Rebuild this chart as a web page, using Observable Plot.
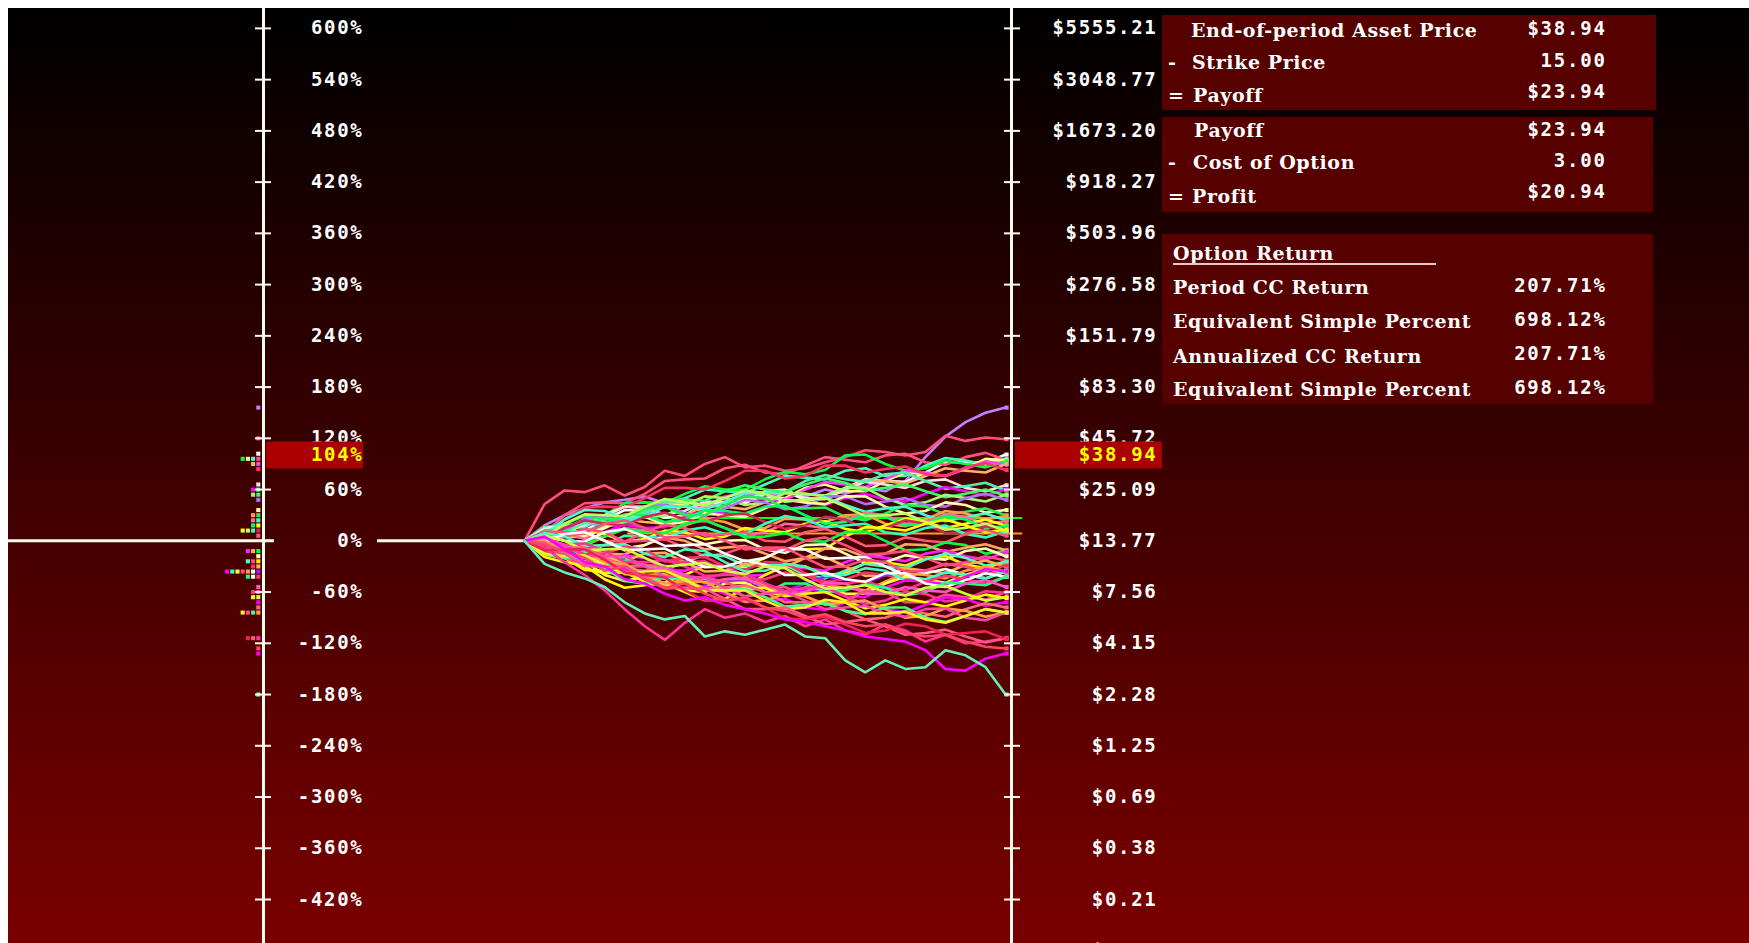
<!DOCTYPE html>
<html><head><meta charset="utf-8">
<script src="https://cdn.jsdelivr.net/npm/d3@7"></script>
<script src="https://cdn.jsdelivr.net/npm/@observablehq/plot@0.6"></script>
<style>
html, body { margin:0; padding:0; background:#ffffff; overflow:hidden; }
#wrap { position:absolute; left:8px; top:8px; width:1741px; height:935px; overflow:hidden; }
.box { position:absolute; background:#560000; }
.lbl { position:absolute; font-family:"DejaVu Serif"; font-weight:bold; font-size:19px; line-height:19px; letter-spacing:0.6px; color:#ffffff; white-space:nowrap; }
.val { position:absolute; font-family:"DejaVu Sans Mono"; font-weight:bold; font-size:19px; line-height:19px; letter-spacing:1.8px; color:#ffffff; text-align:right; white-space:nowrap; }
.uline { position:absolute; height:2px; background:#e8c8c8; }
</style></head>
<body><div id="wrap"></div>
<script>
// ---------------- data ----------------
const returnTicks = [600, 540, 480, 420, 360, 300, 240, 180, 120, 60, 0, -60, -120, -180, -240, -300, -360, -420, -480];
const basePrice = 13.77;
const strikePrice = 15.00;
const optionCost = 3.00;
const selectedReturn = 103.955;
const periodDays = 252;

const pathColors = [
  "#c080ff", "#ff4d80", "#ffffff", "#ff5080", "#40ffc0", "#ffff80", "#00ff40", "#ff40ff",
  "#ffb060", "#ff3366", "#ffe0e0", "#50f0b0", "#ff00ff", "#33ff66", "#a0ff70", "#b070ff",
  "#ffffa0", "#22ee55", "#ffa040", "#40ffd0", "#ff6b9a", "#ffff00", "#00ff66", "#d02858",
  "#33ffbb", "#c0ff60", "#ffff00", "#ff5577", "#00ff44", "#ffa860", "#ff22ff", "#ffffc0",
  "#ffee00", "#ff4d80", "#50ffc0", "#ffb050", "#ee3366", "#9922ff", "#ffffff", "#ffa040",
  "#ff4d80", "#ffff40", "#40ffc0", "#ff00ff", "#ff3377", "#ffffff", "#22ff88", "#ff55cc",
  "#ff4d80", "#ff3399", "#ccff44", "#ffff00", "#ff00ff", "#ff6680", "#ffa040", "#44ff88",
  "#ff44aa", "#ffee22", "#ff3399", "#ff5588", "#ee2255", "#ff4466", "#ff00ff", "#66f0b8"
];

// simulated log-returns (%) sampled every 10.5 trading days
const pathValues = [
  [18, 30, 38, 45, 48, 52, 44, 50, 40, 46, 55, 50, 58, 52, 60, 55, 62, 58, 70, 98, 122, 139, 150, 156],
  [43, 59, 57, 65, 53, 63, 82, 76, 90, 98, 86, 88, 82, 85, 92, 98, 106, 104, 100, 104, 123, 117, 121, 119],
  [11, 10, 12, 25, 36, 35, 27, 30, 44, 45, 44, 55, 58, 48, 49, 62, 72, 70, 69, 80, 92, 92, 91, 101],
  [9, 30, 44, 45, 44, 55, 70, 72, 73, 85, 89, 80, 78, 88, 98, 95, 92, 100, 102, 92, 89, 98, 103, 95],
  [14, 15, 16, 28, 40, 40, 39, 50, 60, 58, 56, 66, 76, 74, 72, 82, 85, 76, 76, 88, 97, 94, 89, 96],
  [-2, 8, 20, 20, 22, 35, 45, 42, 34, 38, 50, 50, 50, 62, 66, 58, 58, 70, 80, 78, 76, 85, 96, 94],
  [16, 20, 19, 30, 44, 45, 44, 55, 64, 60, 60, 72, 81, 78, 83, 100, 101, 90, 82, 85, 94, 90, 86, 93],
  [0, 12, 21, 18, 18, 30, 41, 40, 40, 52, 56, 48, 48, 60, 69, 66, 63, 72, 82, 80, 76, 84, 93, 89],
  [9, 5, 4, 15, 25, 22, 20, 30, 41, 40, 37, 45, 56, 55, 52, 60, 71, 70, 67, 76, 85, 82, 80, 90],
  [7, 25, 39, 40, 39, 50, 62, 62, 60, 70, 82, 82, 73, 76, 88, 88, 80, 84, 87, 78, 76, 86, 91, 83],
  [15, 18, 18, 30, 40, 38, 31, 35, 46, 45, 46, 58, 60, 50, 49, 60, 69, 66, 62, 70, 72, 62, 58, 65],
  [-1, 10, 21, 20, 20, 32, 45, 45, 42, 50, 59, 56, 57, 70, 77, 72, 69, 78, 80, 70, 61, 64, 68, 59],
  [6, 0, -1, 10, 19, 15, 16, 28, 36, 32, 30, 40, 49, 45, 42, 50, 55, 48, 46, 55, 63, 58, 53, 60],
  [2, 15, 25, 22, 23, 35, 48, 48, 47, 58, 65, 60, 57, 66, 73, 68, 59, 62, 66, 58, 51, 55, 60, 53],
  [9, 5, 6, 18, 29, 28, 29, 42, 52, 50, 42, 45, 56, 55, 53, 62, 62, 50, 42, 45, 54, 50, 46, 54],
  [0, 12, 26, 28, 28, 40, 42, 32, 29, 38, 48, 45, 37, 40, 52, 52, 43, 46, 50, 42, 40, 50, 55, 48],
  [10, 8, 6, 15, 28, 28, 19, 22, 32, 30, 28, 38, 48, 45, 43, 52, 52, 40, 32, 35, 45, 42, 33, 36],
  [4, 20, 29, 25, 26, 38, 40, 30, 30, 42, 52, 50, 38, 38, 39, 28, 24, 32, 42, 40, 31, 34, 38, 30],
  [4, -5, -6, 5, 14, 10, 8, 18, 26, 22, 13, 15, 26, 25, 22, 30, 31, 20, 17, 25, 35, 32, 25, 29],
  [7, 25, 36, 35, 26, 28, 40, 40, 37, 45, 56, 55, 46, 48, 51, 42, 34, 38, 40, 30, 23, 28, 32, 24],
  [11, 10, 2, 5, 15, 12, 10, 20, 24, 15, 7, 10, 20, 18, 15, 24, 33, 30, 20, 22, 31, 28, 20, 23],
  [-4, 5, 13, 8, -1, 2, 12, 10, 2, 5, 15, 12, 10, 20, 23, 14, 10, 18, 26, 22, 15, 20, 25, 18],
  [12, 12, 10, 20, 31, 30, 22, 25, 36, 35, 32, 40, 41, 30, 20, 22, 31, 28, 18, 20, 29, 25, 15, 17],
  [2, 15, 24, 20, 18, 28, 33, 25, 22, 30, 32, 22, 14, 18, 28, 25, 14, 15, 24, 20, 9, 10, 17, 12],
  [1, -10, -14, -5, 6, 5, 3, 12, 16, 8, 8, 20, 29, 25, 16, 18, 20, 10, 7, 15, 18, 8, 4, 11],
  [4, 20, 31, 30, 29, 40, 49, 45, 42, 50, 59, 55, 46, 48, 50, 40, 29, 30, 32, 22, 13, 15, 20, 12],
  [-4, -20, -34, -35, -34, -45, -49, -40, -29, -30, -31, -20, -9, -10, -9, 5, 16, 15, 12, 20, 25, 18, 10, 13],
  [-4, 5, 9, 0, -1, 10, 19, 15, 6, 8, 10, 0, -1, 10, 14, 5, -6, -5, 4, 0, -2, 8, 13, 6],
  [6, 0, -4, 5, 14, 10, 9, 20, 24, 15, 4, 5, 9, 0, -1, 10, 11, 0, -11, -10, -2, -5, -15, -12],
  [-11, -10, -7, -15, -16, -5, 4, 0, -10, -8, -6, -15, -24, -20, -9, -10, -19, -15, -4, -5, -13, -8, -4, -11],
  [-2, -15, -26, -25, -17, -20, -34, -35, -27, -30, -41, -40, -30, -32, -35, -25, -17, -20, -24, -15, -11, -18, -22, -13],
  [-1, 10, 11, 0, -9, -5, 6, 5, -4, 0, 1, -10, -14, -5, -4, -15, -26, -25, -17, -20, -22, -12, -9, -18],
  [-2, -15, -33, -38, -37, -48, -53, -45, -44, -55, -54, -40, -29, -30, -40, -38, -26, -25, -29, -20, -18, -28, -32, -24],
  [-4, 5, 14, 10, -1, 0, 2, -8, -18, -15, -7, -10, -11, 0, 4, -5, -16, -15, -12, -20, -29, -25, -18, -23],
  [4, -5, -19, -20, -19, -30, -34, -25, -16, -18, -29, -28, -28, -40, -44, -35, -27, -30, -32, -22, -15, -20, -29, -25],
  [-11, -10, -9, -20, -24, -15, -14, -25, -36, -35, -27, -30, -31, -20, -19, -30, -41, -40, -32, -35, -38, -28, -23, -30],
  [6, 0, -9, -5, -4, -15, -24, -20, -19, -30, -34, -25, -26, -38, -48, -45, -37, -40, -44, -35, -27, -30, -36, -29],
  [-12, -12, -10, -20, -34, -35, -32, -40, -50, -48, -46, -55, -59, -50, -42, -45, -49, -40, -38, -48, -51, -42, -33, -36],
  [6, 0, -1, 10, 14, 5, -6, -5, -4, -15, -24, -20, -9, -10, -21, -20, -19, -30, -40, -38, -33, -40, -44, -36],
  [-15, -18, -16, -25, -39, -40, -39, -50, -54, -45, -43, -52, -62, -60, -52, -55, -58, -48, -38, -40, -44, -35, -30, -36],
  [11, 10, 9, 20, 24, 15, 4, 5, 9, 0, -10, -8, -8, -20, -31, -30, -22, -25, -36, -35, -27, -30, -39, -36],
  [-16, -20, -24, -40, -47, -42, -44, -58, -60, -50, -49, -60, -64, -55, -53, -62, -62, -50, -42, -45, -49, -40, -33, -37],
  [9, 5, -6, -5, -4, -15, -19, -10, -12, -25, -36, -35, -27, -30, -41, -40, -32, -35, -46, -45, -37, -40, -44, -35],
  [-10, -8, -9, -22, -32, -30, -29, -40, -45, -38, -38, -50, -60, -58, -56, -65, -66, -55, -46, -48, -51, -42, -33, -36],
  [4, -5, -16, -15, -7, -10, -24, -25, -24, -35, -46, -45, -37, -40, -51, -50, -47, -55, -58, -48, -41, -45, -50, -42],
  [-2, 8, 10, 0, -11, -10, -9, -20, -31, -30, -23, -28, -40, -40, -37, -45, -48, -38, -38, -50, -54, -46, -38, -42],
  [-2, -15, -29, -30, -23, -28, -43, -45, -44, -55, -65, -62, -50, -50, -60, -58, -51, -55, -64, -60, -49, -50, -52, -42],
  [-11, -10, -9, -20, -34, -35, -32, -40, -49, -45, -44, -55, -64, -60, -49, -50, -62, -62, -54, -58, -60, -50, -46, -54],
  [-4, -20, -29, -25, -27, -40, -51, -50, -43, -48, -58, -55, -54, -65, -74, -70, -59, -60, -72, -72, -63, -66, -69, -60],
  [-9, -5, -3, -12, -25, -25, -22, -30, -41, -40, -39, -50, -59, -55, -54, -65, -74, -70, -60, -62, -71, -68, -59, -61],
  [6, 0, -11, -10, -9, -20, -30, -28, -26, -35, -39, -30, -32, -45, -56, -55, -52, -60, -64, -55, -53, -62, -70, -66],
  [-19, -25, -29, -45, -55, -52, -50, -60, -70, -68, -56, -55, -65, -62, -60, -70, -79, -75, -68, -72, -77, -70, -63, -67],
  [-2, -15, -29, -30, -32, -45, -56, -55, -53, -62, -72, -70, -68, -78, -81, -72, -70, -80, -84, -75, -66, -68, -76, -72],
  [-10, -8, -8, -20, -30, -28, -31, -45, -56, -55, -52, -60, -72, -72, -71, -82, -92, -90, -82, -85, -89, -80, -73, -78],
  [0, -12, -25, -25, -27, -40, -50, -48, -48, -60, -71, -70, -62, -65, -75, -72, -70, -80, -90, -88, -79, -82, -89, -84],
  [-16, -20, -20, -32, -47, -50, -42, -45, -58, -58, -56, -66, -77, -75, -73, -82, -86, -78, -78, -90, -95, -88, -80, -84],
  [4, -5, -18, -18, -18, -30, -42, -42, -43, -55, -65, -62, -60, -70, -80, -78, -76, -85, -89, -80, -79, -90, -93, -84],
  [-15, -18, -17, -28, -38, -36, -35, -45, -58, -58, -58, -70, -80, -78, -69, -72, -85, -85, -83, -92, -96, -88, -80, -84],
  [-8, -25, -40, -58, -80, -100, -116, -96, -80, -90, -85, -95, -88, -100, -92, -105, -110, -98, -105, -118, -110, -120, -118, -114],
  [-2, -15, -29, -30, -30, -42, -55, -55, -56, -68, -80, -80, -78, -88, -98, -95, -92, -100, -110, -108, -104, -112, -119, -114],
  [-11, -10, -10, -22, -37, -40, -43, -58, -70, -70, -68, -78, -91, -92, -89, -98, -108, -105, -97, -100, -110, -108, -106, -115],
  [-5, -12, -20, -35, -30, -45, -55, -50, -62, -70, -66, -78, -82, -90, -86, -95, -100, -98, -108, -112, -110, -118, -124, -126],
  [5, -10, -25, -30, -45, -50, -62, -70, -66, -75, -80, -85, -92, -95, -100, -105, -112, -115, -118, -128, -150, -152, -138, -132],
  [-27, -37, -44, -54, -72, -85, -92, -88, -112, -106, -110, -104, -98, -112, -114, -140, -154, -140, -150, -148, -128, -134, -148, -180]
];

const payoffRows = [["", "End-of-period Asset Price", "$38.94"], ["-", "Strike Price", "15.00"], ["=", "Payoff", "$23.94"]];
const profitRows = [["", "Payoff", "$23.94"], ["-", "Cost of Option", "3.00"], ["=", "Profit", "$20.94"]];
const returnTitle = "Option Return";
const returnRows = [["Period CC Return", "207.71%"], ["Equivalent Simple Percent", "698.12%"], ["Annualized CC Return", "207.71%"], ["Equivalent Simple Percent", "698.12%"]];

// ---------------- layout ----------------
const W = 1741, H = 935, mL = 255, mR = 738;
const xDomain = [-136.7, 255.1];
const yDomain = [-471.5, 623.3];
const pxPerDay = (W - mL - mR) / (xDomain[1] - xDomain[0]);
const zeroLineDays = [{from: -275, to: -131}, {from: -77, to: 0}];
const strikeLineDays = [54, 261];
const breakevenLineDays = [72, 261];
const leftBoxDays = [-135.2, -84.3];
const rightBoxDays = [257.2, 334.2];
const axisColor = "#fffaf0";
const monoFont = "DejaVu Sans Mono";

// ---------------- derived tables ----------------
const rows = [];
pathValues.forEach((vals, i) => {
  const n = vals.length;
  rows.push({path: i, day: 0, value: 0, color: pathColors[i]});
  vals.forEach((v, j) => rows.push({path: i, day: (j + 1) * periodDays / n, value: v, color: pathColors[i]}));
});
const ends = pathValues.map((v, i) => ({value: v[v.length - 1], color: pathColors[i]}));
const binCount = new Map();
const hist = ends.map(e => {
  const b = Math.round(e.value / 6) * 6;
  const k = binCount.get(b) || 0;
  binCount.set(b, k + 1);
  return {bin: b, x: xDomain[0] - (k + 1) * 5.2 / pxPerDay, color: e.color};
});
const strikeReturn = 100 * Math.log(strikePrice / basePrice);
const breakevenReturn = 100 * Math.log((strikePrice + optionCost) / basePrice);
const priceFormat = d => "$" + (basePrice * Math.exp(d / 100)).toFixed(2);

const textOpts = {fontFamily: monoFont, fontSize: 19, fontWeight: "bold"};

const chart = Plot.plot({
  width: W, height: H,
  marginLeft: mL, marginRight: mR, marginTop: 0, marginBottom: 0,
  x: {domain: xDomain, axis: null},
  y: {domain: yDomain, axis: null},
  color: {type: "identity"},
  style: {background: "linear-gradient(#000000, #7a0000)", color: "white", fontFamily: monoFont, fontSize: "19px", fontWeight: "bold", letterSpacing: "1.7px", maxWidth: "none", overflow: "hidden"},
  marks: [
    Plot.ruleY(zeroLineDays, {y: () => 0, x1: "from", x2: "to", stroke: axisColor, strokeWidth: 3}),
    Plot.ruleY([strikeReturn], {x1: strikeLineDays[0], x2: strikeLineDays[1], stroke: "#ff9a30", strokeWidth: 2}),
    Plot.ruleY([breakevenReturn], {x1: breakevenLineDays[0], x2: breakevenLineDays[1], stroke: "#00ff20", strokeWidth: 2}),
    Plot.line(rows, {x: "day", y: "value", z: "path", stroke: "color", strokeWidth: 2.6, strokeLinejoin: "miter"}),
    Plot.dot(ends, {x: periodDays, y: "value", dx: 1, symbol: "square", r: 2.3, fill: "color", stroke: null}),
    Plot.dot(hist, {x: "x", y: "bin", symbol: "square", r: 2.3, fill: "color", stroke: null}),
    Plot.ruleX(xDomain, {stroke: axisColor, strokeWidth: 3}),
    Plot.axisY({ticks: returnTicks, anchor: "left", tickSize: 16, dx: 8, fill: "none", stroke: axisColor, strokeWidth: 2, label: null}),
    Plot.axisY({ticks: returnTicks, anchor: "right", tickSize: 16, dx: -8, fill: "none", stroke: axisColor, strokeWidth: 2, label: null}),
    Plot.axisY({ticks: returnTicks, anchor: "left", tickSize: 0, tickPadding: 0, dx: 100, textAnchor: "end", tickFormat: d => d + "%", fill: "white", label: null, ...textOpts}),
    Plot.axisY({ticks: returnTicks, anchor: "right", tickSize: 0, tickPadding: 0, dx: 146, textAnchor: "end", tickFormat: priceFormat, fill: "white", label: null, ...textOpts}),
    Plot.ruleY([selectedReturn], {x1: leftBoxDays[0], x2: leftBoxDays[1], dy: 3, stroke: "#aa0000", strokeWidth: 27}),
    Plot.ruleY([selectedReturn], {x1: rightBoxDays[0], x2: rightBoxDays[1], dy: 3, stroke: "#aa0000", strokeWidth: 27}),
    Plot.text([selectedReturn], {y: d => d, frameAnchor: "left", dx: 100, dy: 3, textAnchor: "end", text: d => Math.round(d) + "%", fill: "#ffff00", ...textOpts}),
    Plot.text([selectedReturn], {y: d => d, frameAnchor: "right", dx: 146, dy: 3, textAnchor: "end", text: d => priceFormat(d), fill: "#ffff00", ...textOpts})
  ]
});
const wrap = document.getElementById("wrap");
wrap.appendChild(chart);

// ---------------- info panel ----------------
function el(cls, text, css) {
  const d = document.createElement("div");
  d.className = cls;
  if (text != null) d.textContent = text;
  Object.assign(d.style, css);
  wrap.appendChild(d);
  return d;
}
const ASC = 16; // baseline offset from top for 19px / 19px line-height
const VAL_RIGHT = W - 1597 - 1.8;
el("box", null, {left: "1154px", top: "7px", width: "494px", height: "95px"});
el("box", null, {left: "1154px", top: "109px", width: "491px", height: "95px"});
el("box", null, {left: "1154px", top: "226px", width: "491px", height: "170px"});

const box1 = {labelBase: [29, 61, 94], valueBase: [27, 59, 90], labelX: [1183, 1184, 1185]};
const box2 = {labelBase: [129, 161, 195.3], valueBase: [128, 159, 190.3], labelX: [1186, 1185, 1184]};
[[payoffRows, box1], [profitRows, box2]].forEach(([data, pos]) => {
  data.forEach((r, i) => {
    if (r[0]) el("lbl", r[0], {left: "1160px", top: (pos.labelBase[i] - ASC) + "px"});
    el("lbl", r[1], {left: pos.labelX[i] + "px", top: (pos.labelBase[i] - ASC) + "px"});
    el("val", r[2], {right: VAL_RIGHT + "px", top: (pos.valueBase[i] - ASC) + "px"});
  });
});
el("lbl", returnTitle, {left: "1165px", top: (252 - ASC) + "px"});
el("uline", null, {left: "1165px", top: "255px", width: "263px"});
const box3 = {labelBase: [286, 320, 355, 388], valueBase: [284, 318, 352, 386]};
returnRows.forEach((r, i) => {
  el("lbl", r[0], {left: "1165px", top: (box3.labelBase[i] - ASC) + "px"});
  el("val", r[1], {right: VAL_RIGHT + "px", top: (box3.valueBase[i] - ASC) + "px"});
});
</script>
</body></html>
